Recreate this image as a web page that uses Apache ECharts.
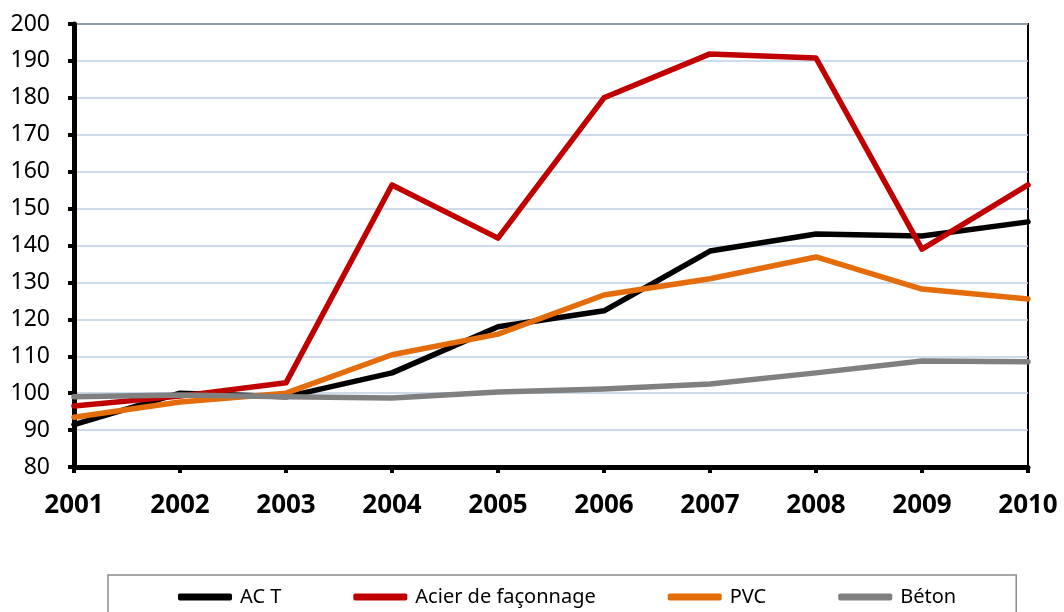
<!DOCTYPE html>
<html><head><meta charset="utf-8">
<script src="https://cdn.jsdelivr.net/npm/echarts@6/dist/echarts.min.js"></script>
<style>html,body{margin:0;padding:0;background:#fff}#c{width:1064px;height:612px}</style>
</head><body><div id="c"></div>
<script>
const years = ['2001','2002','2003','2004','2005','2006','2007','2008','2009','2010'];
const seriesNames = ['AC T','Acier de façonnage','PVC','Béton'];
const acT = [91.5,100.0,99.0,105.5,118.0,122.3,138.5,143.1,142.6,146.4];
const acier = [96.5,99.2,102.8,156.4,142.0,180.0,191.9,190.8,139.0,156.4];
const pvc = [93.5,97.6,100.0,110.4,116.0,126.6,131.0,136.9,128.2,125.5];
const beton = [99.0,99.5,99.0,98.7,100.3,101.1,102.5,105.5,108.7,108.5];
const colors = ['#000000','#c00000','#e46c0a','#808080'];
const values = [acT, acier, pvc, beton];

const chart = echarts.init(document.getElementById('c'), null, {renderer:'canvas'});
chart.setOption({
  animation:false,
  grid:{left:74,right:36,top:24,bottom:145,show:true,borderColor:'#000',borderWidth:2,backgroundColor:'transparent'},
  legend:{
    left:108, top:575, orient:'horizontal',
    borderColor:'#8c8c8c', borderWidth:1.5,
    padding:[12,60,14,70],
    itemGap:72, itemWidth:54, itemHeight:7,
    icon:'roundRect',
    textStyle:{fontFamily:'Noto Sans', fontSize:20, color:'#000', padding:[0,0,0,3]},
    data: seriesNames
  },
  xAxis:{
    type:'category', data:years, boundaryGap:false,
    axisLine:{lineStyle:{color:'#000',width:5}},
    axisTick:{show:true,length:6,lineStyle:{color:'#000',width:4}},
    axisLabel:{fontFamily:'Noto Sans',fontSize:26,fontWeight:'bold',color:'#000',margin:26},
    splitLine:{show:false}
  },
  yAxis:{
    type:'value', min:80, max:200, interval:10,
    axisLine:{show:true,lineStyle:{color:'#000',width:5}},
    axisTick:{show:true,length:6,lineStyle:{color:'#000',width:4}},
    axisLabel:{fontFamily:'Noto Sans',fontSize:23,color:'#000',margin:24},
    splitLine:{show:true,lineStyle:{color:'#bccfe6',width:1.5}}
  },
  series: seriesNames.map((n,i)=>({
    name:n, type:'line', data:values[i], symbol:'none', showSymbol:false,
    lineStyle:{color:colors[i],width:5.5,cap:'round',join:'round'},
    itemStyle:{color:colors[i]},
    z:2+i
  }))
});
</script></body></html>
